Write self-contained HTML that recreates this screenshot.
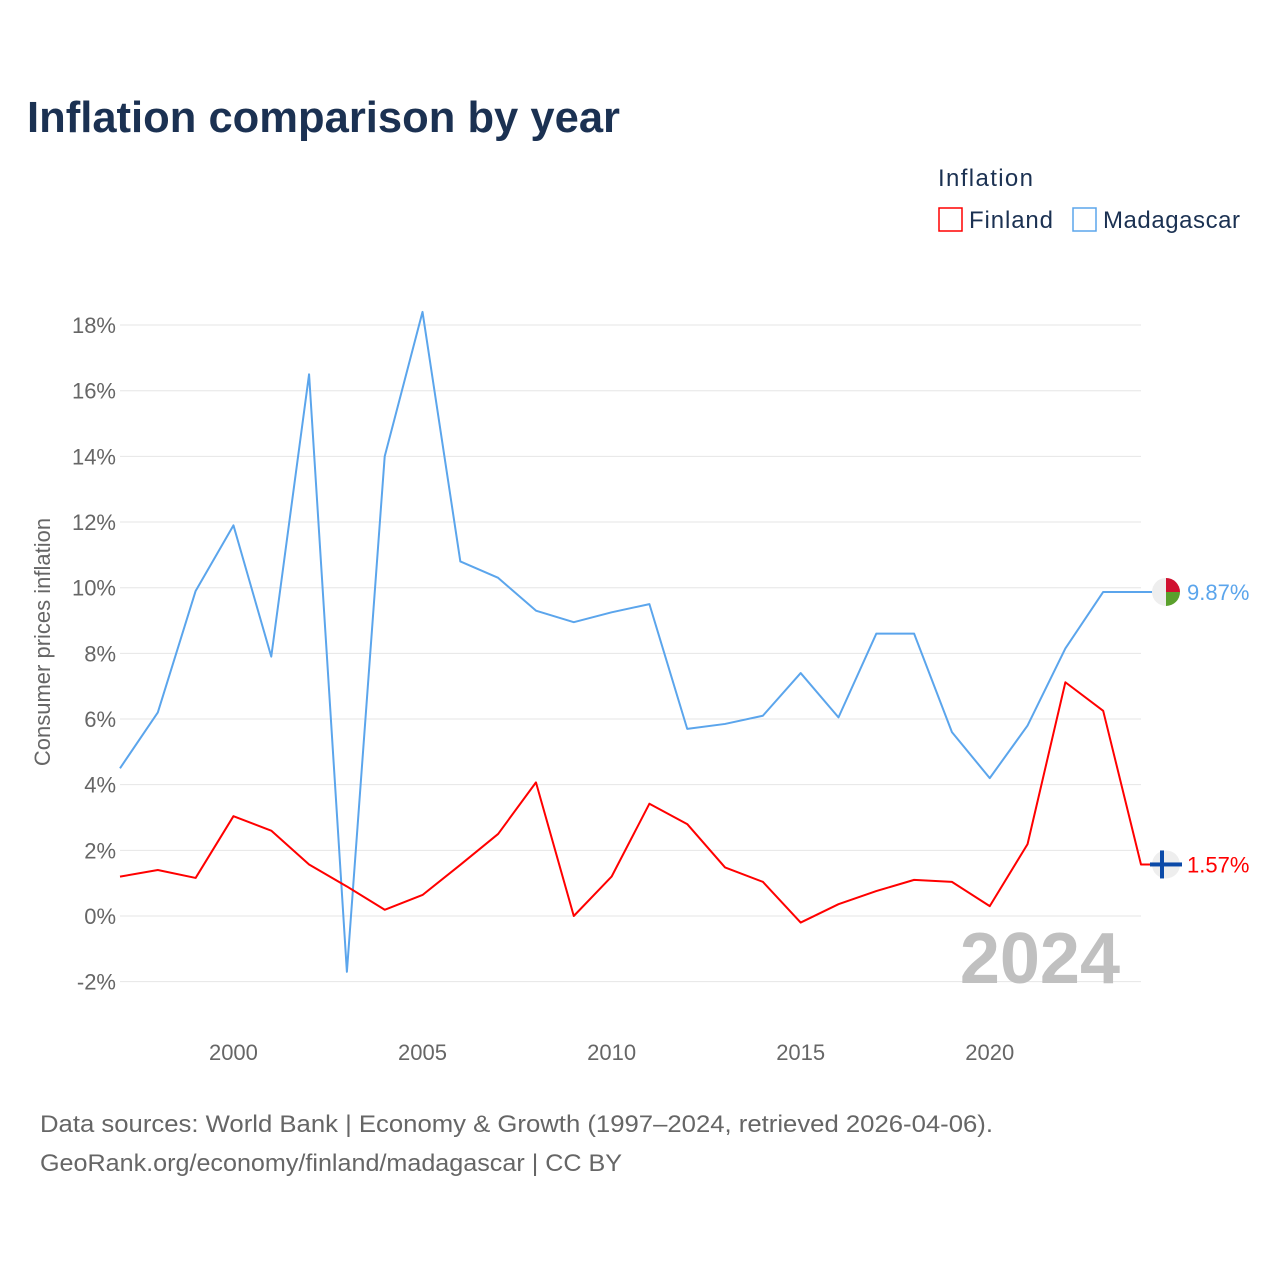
<!DOCTYPE html>
<html><head><meta charset="utf-8"><style>
body{margin:0;background:#fff;font-family:"Liberation Sans",sans-serif;}
svg text{font-family:"Liberation Sans",sans-serif;}
</style></head><body>
<svg width="1280" height="1280" xmlns="http://www.w3.org/2000/svg">
<text x="27" y="132" font-size="44" font-weight="bold" fill="#1b3152" textLength="593" lengthAdjust="spacingAndGlyphs">Inflation comparison by year</text>
<text x="938" y="186" font-size="24" fill="#1b3152" textLength="95">Inflation</text>
<g><rect x="939" y="208" width="23" height="23" fill="none" stroke="#f00" stroke-width="1.5"/><text x="969" y="228" font-size="24" fill="#1b3152" textLength="84">Finland</text></g>
<g><rect x="1073" y="208" width="23" height="23" fill="none" stroke="#5ba5ec" stroke-width="1.5"/><text x="1103" y="228" font-size="24" fill="#1b3152" textLength="137">Madagascar</text></g>
<text transform="translate(50,642) rotate(-90)" text-anchor="middle" font-size="22" fill="#666">Consumer prices inflation</text>
<g id="grid"></g><g id="yticks"></g><g id="xticks"></g>
<text x="1120" y="983" text-anchor="end" font-size="72" font-weight="bold" fill="#c0c0c0">2024</text>
<g id="series"></g>
<text x="40" y="1132" font-size="24" fill="#666" textLength="953" lengthAdjust="spacingAndGlyphs">Data sources: World Bank | Economy &amp; Growth (1997–2024, retrieved 2026-04-06).</text>
<text x="40" y="1171" font-size="24" fill="#666" textLength="582" lengthAdjust="spacingAndGlyphs">GeoRank.org/economy/finland/madagascar | CC BY</text>
</svg>
<script>
const years=[1997,1998,1999,2000,2001,2002,2003,2004,2005,2006,2007,2008,2009,2010,2011,2012,2013,2014,2015,2016,2017,2018,2019,2020,2021,2022,2023,2024];
const madagascar=[4.5,6.2,9.9,11.9,7.9,16.5,-1.7,14.0,18.4,10.8,10.3,9.3,8.95,9.25,9.5,5.7,5.85,6.1,7.4,6.05,8.6,8.6,5.6,4.2,5.8,8.15,9.87,9.87];
const finland=[1.2,1.4,1.16,3.04,2.6,1.57,0.9,0.19,0.64,1.56,2.5,4.07,0.0,1.2,3.42,2.8,1.48,1.04,-0.2,0.36,0.76,1.1,1.04,0.3,2.19,7.12,6.25,1.57];
const yTicks=[-2,0,2,4,6,8,10,12,14,16,18];
const xTicks=[2000,2005,2010,2015,2020];
const NS="http://www.w3.org/2000/svg";
const X=y=>120+(y-1997)*(1141-120)/27;
const Y=v=>916-v*32.83;
function mk(t,a,p){const e=document.createElementNS(NS,t);for(const k in a)e.setAttribute(k,a[k]);p.appendChild(e);return e;}
const grid=document.getElementById('grid'),yt=document.getElementById('yticks'),xt=document.getElementById('xticks'),ser=document.getElementById('series');
yTicks.forEach(v=>{const l=mk('line',{x1:120,x2:1141,y1:Y(v),y2:Y(v),stroke:'#e6e6e6','stroke-width':1},grid);


const t=mk('text',{x:116,y:Y(v)+8,'text-anchor':'end','font-size':22,fill:'#666'},yt);t.textContent=v+'%';

});
xTicks.forEach(v=>{const t=mk('text',{x:X(v),y:1060,'text-anchor':'middle','font-size':22,fill:'#666'},xt);t.textContent=v;

});
function line(vals,col,name){const pts=vals.map((v,i)=>X(years[i])+','+Y(v));pts.push('1152,'+Y(vals[vals.length-1]));
const p=mk('polyline',{points:pts.join(' '),fill:'none',stroke:col,'stroke-width':2,'stroke-linejoin':'round'},ser);


const last=vals[vals.length-1],cy=Y(last);
const c=mk('circle',{cx:1166,cy:cy,r:14,fill:'#eee'},ser);


const t=mk('text',{x:1187,y:cy+8,'font-size':22,fill:col},ser);t.textContent=last.toFixed(2)+'%';


return cy;}
const cm=line(madagascar,'#5ba5ec','madagascar-line');
const cf=line(finland,'#f00','finland-line');
mk('path',{d:`M1166 ${cm} L1166 ${cm-14} A14 14 0 0 1 1180 ${cm} Z`,fill:'#d0102f'},ser);
mk('path',{d:`M1166 ${cm} L1180 ${cm} A14 14 0 0 1 1166 ${cm+14} Z`,fill:'#5aa02c'},ser);
mk('rect',{x:1150,y:cf-2,width:32,height:4,fill:'#0b4aa8'},ser);
mk('rect',{x:1160,y:cf-14,width:4,height:28,fill:'#0b4aa8'},ser);
</script>
</body></html>
